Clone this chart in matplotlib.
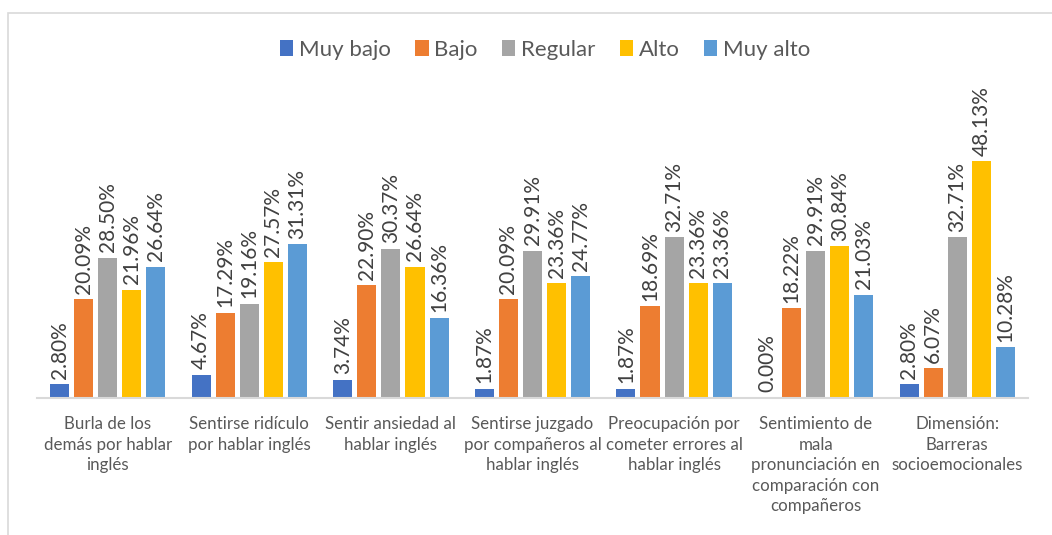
import matplotlib.pyplot as plt
import numpy as np
from matplotlib.patches import Rectangle

plt.rcParams['font.family'] = ['Lato', 'DejaVu Sans']

categorias = ['Burla de los\ndemás por hablar\ninglés',
              'Sentirse ridículo\npor hablar inglés',
              'Sentir ansiedad al\nhablar inglés',
              'Sentirse juzgado\npor compañeros al\nhablar inglés',
              'Preocupación por\ncometer errores al\nhablar inglés',
              'Sentimiento de\nmala\npronunciación en\ncomparación con\ncompañeros',
              'Dimensión:\nBarreras\nsocioemocionales']
series = ['Muy bajo', 'Bajo', 'Regular', 'Alto', 'Muy alto']
muy_bajo = [2.80, 4.67, 3.74, 1.87, 1.87, 0.00, 2.80]
bajo = [20.09, 17.29, 22.90, 20.09, 18.69, 18.22, 6.07]
regular = [28.50, 19.16, 30.37, 29.91, 32.71, 29.91, 32.71]
alto = [21.96, 27.57, 26.64, 23.36, 23.36, 30.84, 48.13]
muy_alto = [26.64, 31.31, 16.36, 24.77, 23.36, 21.03, 10.28]
colores = ['#4472C4', '#ED7D31', '#A5A5A5', '#FFC000', '#5B9BD5']

valores = [muy_bajo, bajo, regular, alto, muy_alto]

fig = plt.figure(figsize=(10.52, 5.35), dpi=100)
# borde del area del grafico
fig.patches.append(Rectangle((8 / 1052, -0.1), 1.2, (535 - 13) / 535 + 0.1,
                             transform=fig.transFigure, fill=False,
                             edgecolor='#D9D9D9', linewidth=1.2))

ax = fig.add_axes([37 / 1052, 137 / 535, 991 / 1052, 295 / 535])
x = np.arange(len(categorias))
paso = 0.17
ancho = 0.135
for i, (nombre, vals, c) in enumerate(zip(series, valores, colores)):
    pos = x + (i - 2) * paso
    ax.bar(pos, vals, ancho, color=c, label=nombre, zorder=2)
    for xb, v in zip(pos, vals):
        ax.annotate(f'{v:.2f}%', (xb, v), xytext=(0, 4), textcoords='offset points',
                    rotation=90, ha='center', va='bottom', fontsize=15,
                    color='#404040')

ax.set_xlim(-0.5, len(categorias) - 0.5)
ax.set_ylim(0, 60)
ax.set_yticks([])
ax.set_xticks(x)
ax.set_xticklabels(categorias, fontsize=12.2, color='#595959', linespacing=1.35)
ax.tick_params(axis='x', length=0, pad=13)
for s in ['top', 'right', 'left']:
    ax.spines[s].set_visible(False)
ax.spines['bottom'].set_color('#D9D9D9')
ax.spines['bottom'].set_linewidth(1.5)

ax.legend(loc='center', bbox_to_anchor=(545 / 1052, 1 - 50 / 535),
          bbox_transform=fig.transFigure, ncol=5, frameon=False,
          fontsize=16, labelcolor='#595959', handlelength=0.6,
          handleheight=0.75, handletextpad=0.25, columnspacing=1.1)

fig.savefig('out.png', dpi=100)
